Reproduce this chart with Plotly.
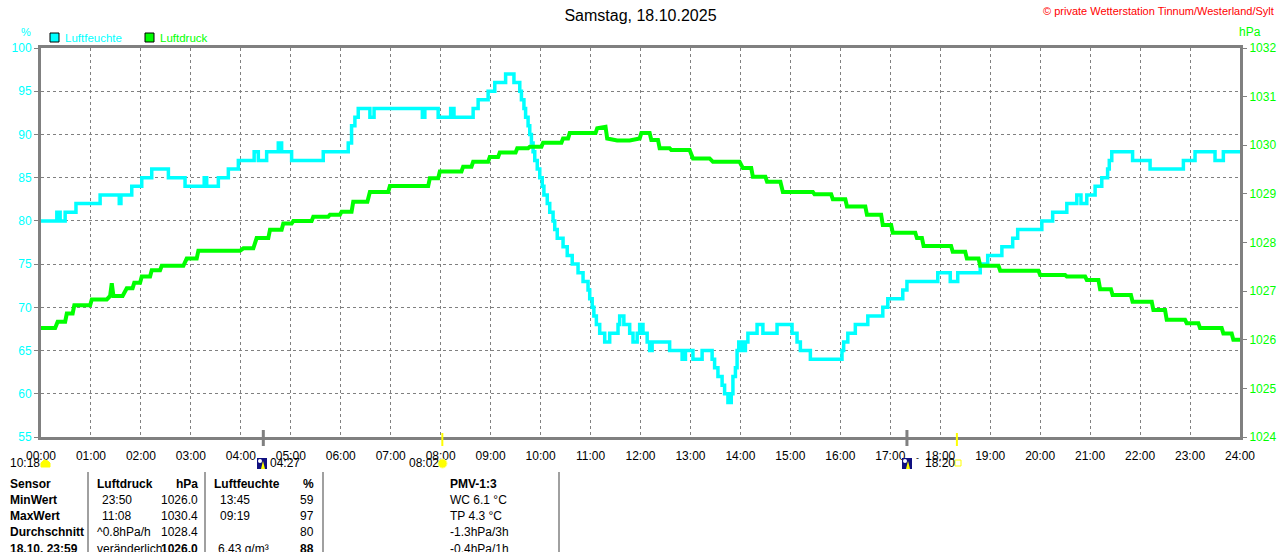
import plotly.graph_objects as go

# ---------------- data ----------------
hours_labels = [f"{h:02d}:00" for h in range(25)]
hour_ticks = [h * 60 for h in range(25)]

# Luftfeuchte (%), change points: minute of day -> value
hum_min = [0, 19, 23, 29, 42, 71, 94, 96, 109, 121, 133, 153, 173, 196, 199, 213, 225, 237,
           256, 261, 271, 285, 289, 301, 339, 369, 373, 377, 381, 395, 400, 458, 461, 477,
           492, 496, 519, 525, 537, 545, 558, 568, 575, 577, 580, 582, 585, 587, 589, 591,
           593, 596, 599, 602, 604, 608, 611, 615, 617, 620, 627, 632, 638, 645, 651, 657,
           659, 662, 664, 667, 671, 677, 683, 693, 695, 700, 707, 711, 716, 719, 723, 728,
           731, 734, 755, 770, 774, 783, 794, 806, 809, 813, 818, 821, 825, 829, 831, 834,
           836, 838, 842, 846, 849, 860, 867, 884, 902, 908, 912, 924, 962, 964, 969, 978,
           993, 1011, 1017, 1035, 1040, 1077, 1092, 1101, 1128, 1137, 1154, 1167, 1173, 1202,
           1215, 1232, 1244, 1249, 1256, 1266, 1274, 1281, 1283, 1286, 1311, 1332, 1372, 1386,
           1410, 1420, 1440]
hum_val = [80, 81, 80, 81, 82, 83, 82, 83, 84, 85, 86, 85, 84, 85, 84, 85, 86, 87,
           88, 87, 88, 89, 88, 87, 88, 89, 91, 92, 93, 92, 93, 92, 93, 92,
           93, 92, 93, 94, 95, 96, 97, 96, 95, 94, 93, 92, 91, 90, 89, 88,
           87, 86, 85, 84, 83, 82, 81, 80, 79, 78, 77, 76, 75, 74, 73, 72,
           71, 70, 69, 68, 67, 66, 67, 68, 69, 68, 67, 66, 67, 68, 67, 66,
           65, 66, 65, 64, 65, 64, 65, 64, 63, 62, 61, 60, 59, 60, 62, 63,
           65, 66, 65, 66, 67, 68, 67, 68, 67, 66, 65, 64, 65, 66, 67, 68,
           69, 70, 71, 72, 73, 74, 73, 74, 75, 76, 77, 78, 79, 80,
           81, 82, 83, 82, 83, 84, 85, 86, 87, 88, 87, 86, 87, 88,
           87, 88, 88]

# Luftdruck (hPa): minute of day -> value
prs_min = [0, 17, 20, 29, 31, 38, 40, 59, 61, 79, 83, 85, 87, 98, 103, 110, 112, 119, 121, 131,
           133, 143, 145, 171, 175, 187, 189, 239, 243, 255, 259, 273, 275, 289, 291, 301, 303,
           325, 327, 345, 347, 359, 361, 373, 375, 392, 395, 417, 419, 465, 467, 477, 479, 505,
           507, 517, 519, 537, 539, 549, 551, 570, 572, 585, 587, 601, 603, 625, 627, 633, 635,
           666, 668, 678, 680, 692, 707, 719, 721, 731, 733, 741, 743, 755, 757, 779, 783, 803,
           807, 839, 843, 853, 855, 870, 872, 888, 891, 927, 929, 949, 951, 966, 968, 990, 992,
           1009, 1011, 1021, 1023, 1050, 1052, 1058, 1060, 1093, 1095, 1110, 1112, 1126, 1128,
           1150, 1152, 1198, 1200, 1230, 1232, 1254, 1256, 1270, 1272, 1285, 1287, 1309, 1311,
           1334, 1336, 1350, 1352, 1374, 1376, 1390, 1392, 1418, 1420, 1430, 1432, 1440]
prs_val = [1026.24, 1026.24, 1026.37, 1026.37, 1026.54, 1026.54, 1026.71, 1026.71, 1026.83, 1026.83,
           1026.90, 1027.16, 1026.90, 1026.90, 1027.06, 1027.06, 1027.17, 1027.17, 1027.30, 1027.30,
           1027.43, 1027.43, 1027.52, 1027.52, 1027.67, 1027.67, 1027.83, 1027.83, 1027.88, 1027.88,
           1028.09, 1028.09, 1028.26, 1028.26, 1028.39, 1028.39, 1028.44, 1028.44, 1028.53, 1028.53,
           1028.57, 1028.57, 1028.63, 1028.63, 1028.84, 1028.84, 1029.04, 1029.04, 1029.16, 1029.16,
           1029.32, 1029.32, 1029.46, 1029.46, 1029.56, 1029.56, 1029.66, 1029.66, 1029.76, 1029.76,
           1029.85, 1029.85, 1029.94, 1029.94, 1029.97, 1029.97, 1030.05, 1030.05, 1030.14, 1030.14,
           1030.25, 1030.25, 1030.35, 1030.38, 1030.14, 1030.10, 1030.10, 1030.14, 1030.25, 1030.25,
           1030.11, 1030.11, 1029.94, 1029.94, 1029.90, 1029.90, 1029.73, 1029.73, 1029.66, 1029.66,
           1029.53, 1029.53, 1029.35, 1029.35, 1029.25, 1029.25, 1029.04, 1029.04, 1028.99, 1028.99,
           1028.89, 1028.89, 1028.74, 1028.74, 1028.57, 1028.57, 1028.36, 1028.36, 1028.20, 1028.20,
           1028.09, 1028.09, 1027.93, 1027.93, 1027.81, 1027.81, 1027.67, 1027.67, 1027.52, 1027.52,
           1027.42, 1027.42, 1027.33, 1027.33, 1027.30, 1027.30, 1027.23, 1027.23, 1027.04, 1027.04,
           1026.92, 1026.92, 1026.78, 1026.78, 1026.61, 1026.61, 1026.41, 1026.41, 1026.34, 1026.34,
           1026.24, 1026.24, 1026.13, 1026.13, 1026.00, 1026.00]

hum_ticks = list(range(55, 101, 5))
prs_ticks = list(range(1024, 1033))

# astronomical events: minute of day
moon_event_min = [267, 1040]
sun_event_min = [482, 1100]

title_text = "Samstag, 18.10.2025"
copyright_text = "© private Wetterstation Tinnum/Westerland/Sylt"

table_rows = [
    ["Sensor", "Luftdruck", "hPa", "Luftfeuchte", "%", "PMV-1:3"],
    ["MinWert", "23:50", "1026.0", "13:45", "59", "WC 6.1 °C"],
    ["MaxWert", "11:08", "1030.4", "09:19", "97", "TP 4.3 °C"],
    ["Durchschnitt", "^0.8hPa/h", "1028.4", "", "80", "-1.3hPa/3h"],
    ["18.10. 23:59", "veränderlich", "1026.0", "6.43 g/m³", "88", "-0.4hPa/1h"],
]

# ---------------- figure ----------------
W, H = 1280, 552
L, R, T, B = 41, 40, 48, 115
CYAN = "#00FFFF"
GREEN = "#00FF00"
GRAY = "#808080"
FONT = "Liberation Sans"


def px(x):
    return (x - L) / (W - L - R)


def py(y):
    return (H - B - y) / (H - T - B)


fig = go.Figure()
fig.add_trace(go.Scatter(x=prs_min, y=prs_val, yaxis="y2", mode="lines",
                         line=dict(color=GREEN, width=4), name="Luftdruck",
                         showlegend=False, hoverinfo="skip"))
fig.add_trace(go.Scatter(x=hum_min, y=hum_val, mode="lines",
                         line=dict(color=CYAN, width=3.5, shape="hv"), name="Luftfeuchte",
                         showlegend=False, hoverinfo="skip"))

shapes = []
annotations = []

# event tick marks on the x axis
for m in moon_event_min:
    shapes.append(dict(type="line", xref="x", yref="paper", x0=m, x1=m,
                       y0=py(446), y1=py(430), line=dict(color=GRAY, width=3)))
for m in sun_event_min:
    shapes.append(dict(type="line", xref="x", yref="paper", x0=m, x1=m,
                       y0=py(446), y1=py(433), line=dict(color="#FFFF00", width=2)))

# legend
shapes.append(dict(type="rect", xref="paper", yref="paper", x0=px(50), x1=px(59),
                   y0=py(42), y1=py(33), fillcolor=CYAN, line=dict(color="black", width=1)))
shapes.append(dict(type="rect", xref="paper", yref="paper", x0=px(145), x1=px(154),
                   y0=py(42), y1=py(33), fillcolor=GREEN, line=dict(color="black", width=1)))
annotations.append(dict(text="Luftfeuchte", x=px(63), y=py(38), xref="paper", yref="paper",
                        xanchor="left", yanchor="middle", showarrow=False,
                        font=dict(family=FONT, size=11.5, color=CYAN)))
annotations.append(dict(text="Luftdruck", x=px(158), y=py(38), xref="paper", yref="paper",
                        xanchor="left", yanchor="middle", showarrow=False,
                        font=dict(family=FONT, size=11.5, color=GREEN)))
annotations.append(dict(text="%", x=px(26), y=py(32), xref="paper", yref="paper",
                        xanchor="center", yanchor="middle", showarrow=False,
                        font=dict(family=FONT, size=11, color=CYAN)))
annotations.append(dict(text="hPa", x=px(1250), y=py(32), xref="paper", yref="paper",
                        xanchor="center", yanchor="middle", showarrow=False,
                        font=dict(family=FONT, size=12, color=GREEN)))
annotations.append(dict(text=copyright_text, x=px(1276), y=py(11), xref="paper", yref="paper",
                        xanchor="right", yanchor="middle", showarrow=False,
                        font=dict(family=FONT, size=11, color="#FF0000")))

# sunrise / moon labels under the axis
def label(txt, x, y, anchor="left", size=12, bold=False, color="black"):
    t = f"<b>{txt}</b>" if bold else txt
    annotations.append(dict(text=t, x=px(x), y=py(y), xref="paper", yref="paper",
                            xanchor=anchor, yanchor="middle", showarrow=False,
                            font=dict(family=FONT, size=size, color=color)))

label("10:18", 8, 463)
shapes.append(dict(type="path", xref="paper", yref="paper",
                   path=f"M {px(41)},{py(467)} L {px(41)},{py(463)} Q {px(45)},{py(457)} {px(50)},{py(463)} L {px(50)},{py(467)} Z",
                   fillcolor="#FFFF00", line=dict(color="#FFFF00", width=1)))
# moon icons
for xm in (257, 902):
    shapes.append(dict(type="rect", xref="paper", yref="paper", x0=px(xm), x1=px(xm + 10),
                       y0=py(469), y1=py(458), fillcolor="#101080", line=dict(width=0)))
    shapes.append(dict(type="circle", xref="paper", yref="paper", x0=px(xm + 1), x1=px(xm + 5),
                       y0=py(463), y1=py(459), fillcolor="white", line=dict(width=0)))
    shapes.append(dict(type="path", xref="paper", yref="paper",
                       path=f"M {px(xm+4)},{py(469)} L {px(xm+6)},{py(461)} L {px(xm+8)},{py(469)} Z",
                       fillcolor="#FFFF00", line=dict(width=0)))
label("04:27", 268, 463)
label("08:02", 407, 463)
shapes.append(dict(type="circle", xref="paper", yref="paper", x0=px(438), x1=px(447),
                   y0=py(468), y1=py(459), fillcolor="#FFFF00", line=dict(color="#FFFF80", width=1)))
label("-", 914, 458, size=9)
label("18:20", 923, 463)
shapes.append(dict(type="rect", xref="paper", yref="paper", x0=px(955), x1=px(961),
                   y0=py(466), y1=py(460), fillcolor="white", line=dict(color="#FFFF00", width=1)))

# table separators
for xs in (88, 205, 323, 559):
    shapes.append(dict(type="line", xref="paper", yref="paper", x0=px(xs), x1=px(xs),
                       y0=py(552), y1=py(472), line=dict(color=GRAY, width=1.5)))

# table text
row_y = [484, 500, 516, 532, 549]
for i, row in enumerate(table_rows):
    y = row_y[i]
    label(row[0], 8, y, bold=True)
    if i == 0:
        label(row[1], 95, y, bold=True)
        label(row[2], 200, y, anchor="right", bold=True)
        label(row[3], 212, y, bold=True)
        label(row[4], 316, y, anchor="right", bold=True)
        label(row[5], 448, y, bold=True)
    else:
        x1 = 95 if i in (3, 4) else 100
        label(row[1], x1, y)
        label(row[2], 200, y, anchor="right", bold=(i == 4))
        label(row[3], 218 if i < 4 else 216, y)
        label(row[4], 316, y, anchor="right", bold=(i == 4))
        label(row[5], 448, y)

fig.update_layout(
    width=W, height=H,
    margin=dict(l=L, r=R, t=T, b=B, autoexpand=False),
    paper_bgcolor="white", plot_bgcolor="white",
    showlegend=False,
    title=dict(text=title_text, x=0.5, xref="paper", y=1 - 15 / H, yanchor="middle",
               font=dict(family=FONT, size=16, color="black")),
    xaxis=dict(range=[0, 1440], tickvals=hour_ticks, ticktext=hours_labels,
               showgrid=True, gridcolor=GRAY, griddash="3px,3px", gridwidth=1,
               showline=True, linecolor=GRAY, linewidth=3, mirror=True,
               ticks="", ticklabelstandoff=6, zeroline=False,
               tickfont=dict(family=FONT, size=12, color="black")),
    yaxis=dict(range=[55, 100], tickvals=hum_ticks, showgrid=True, gridcolor=GRAY,
               griddash="3px,3px", gridwidth=1, showline=True, linecolor=GRAY, linewidth=3,
               ticks="outside", ticklen=4, tickcolor=GRAY, zeroline=False,
               tickfont=dict(family=FONT, size=12, color=CYAN)),
    yaxis2=dict(range=[1024, 1032], tickvals=prs_ticks, overlaying="y", side="right",
                showgrid=False, showline=True, linecolor=GRAY, linewidth=3,
                ticks="outside", ticklen=4, tickcolor=GRAY, zeroline=False,
                tickfont=dict(family=FONT, size=12, color=GREEN)),
    shapes=shapes,
    annotations=annotations,
)

fig.write_html("out.html", config={"displayModeBar": False},
               post_script="document.body.style.margin='0px';document.body.style.overflow='hidden';")
